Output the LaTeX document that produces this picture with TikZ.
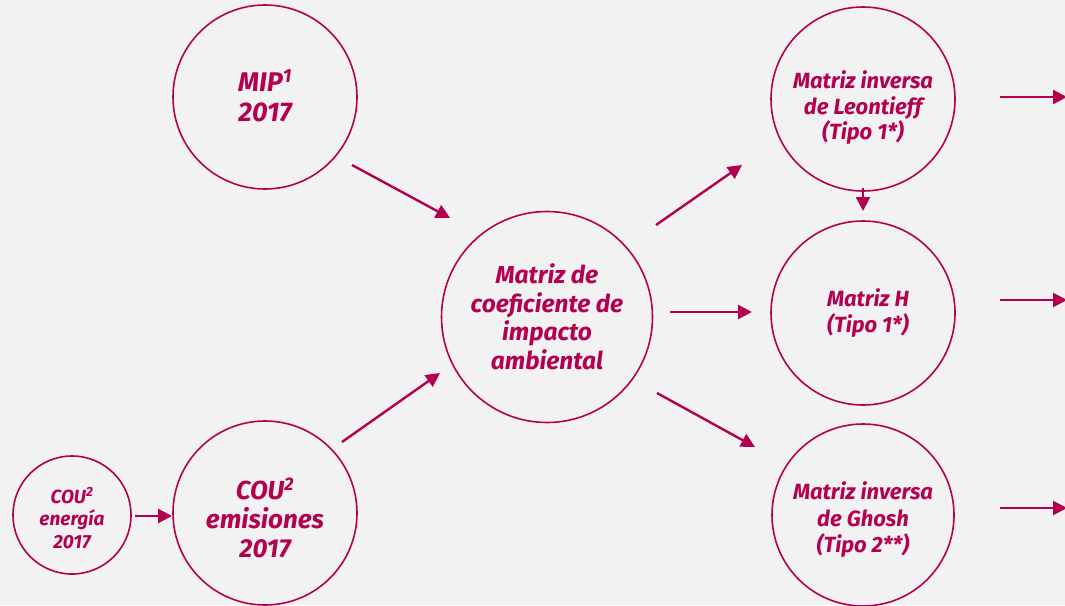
\documentclass[tikz,border=0pt]{standalone}
\usepackage{fontspec}
\setmainfont{Fira Sans}
\usetikzlibrary{arrows.meta}
\definecolor{mag}{RGB}{180,0,78}
\definecolor{bg}{RGB}{242,242,242}
\begin{document}
\begin{tikzpicture}[x=1pt,y=-1pt,
  circ/.style={circle,draw=mag,line width=1.6pt,inner sep=0pt},
  big/.style={circ,minimum size=184pt},
  txt/.style={inner sep=0pt,align=center,text=mag},
  arr/.style={draw=mag,line width=2.4pt,-{Triangle[length=14pt,width=14pt]}}]
\fill[bg] (0,0) rectangle (1065,605);
\useasboundingbox (0,0) rectangle (1065,605);
\node[big] (mip) at (265,97) {};
\node[big] (emi) at (265,513) {};
\node[circ,minimum size=118pt] (ene) at (72,515) {};
\node[circ,minimum size=211pt] (cen) at (547,317) {};
\node[big] (leo) at (863,99) {};
\node[big] (hh) at (863,313) {};
\node[big,minimum size=182pt] (gho) at (863,515) {};
\node[txt,font=\bfseries\itshape\fontsize{27}{30}\selectfont] (mipT) at ([yshift=1]mip.center) {MIP\textsuperscript{1}\\2017};
\node[txt,font=\bfseries\itshape\fontsize{26}{29}\selectfont] (emiT) at ([yshift=-5]emi.center) {COU\textsuperscript{2}\\emisiones\\2017};
\node[txt,font=\bfseries\itshape\fontsize{19}{22.5}\selectfont] (eneT) at ([yshift=-3]ene.center) {COU\textsuperscript{2}\\energía\\2017};
\node[txt,font=\bfseries\itshape\fontsize{24.5}{28.5}\selectfont] (cenT) at (cen.center) {Matriz de\\coeficiente de\\impacto\\ambiental};
\node[txt,font=\bfseries\itshape\fontsize{22}{25.5}\selectfont] (leoT) at ([yshift=-9]leo.center) {Matriz inversa\\de Leontieff\\(Tipo 1*)};
\node[txt,font=\bfseries\itshape\fontsize{22}{26}\selectfont] (hhT) at ([xshift=5,yshift=0]hh.center) {Matriz H\\(Tipo 1*)};
\node[txt,font=\bfseries\itshape\fontsize{22}{26.5}\selectfont] (ghoT) at ([yshift=-5]gho.center) {Matriz inversa\\de Ghosh\\(Tipo 2**)};
\coordinate (o1) at (1067,97);
\coordinate (o2) at (1067,300);
\coordinate (o3) at (1067,508);
\draw[arr] ([shift={(87,68)}]mip.center) -- ([shift={(-97,-99)}]cen.center);
\draw[arr] ([shift={(77,-71)}]emi.center) -- ([shift={(-107,56)}]cen.center);
\draw[arr] ([shift={(63,1)}]ene.center) -- ([shift={(-93,3)}]emi.center);
\draw[arr] ([shift={(109,-92)}]cen.center) -- ([shift={(-121,66)}]leo.center);
\draw[arr] ([shift={(123,-5)}]cen.center) -- ([shift={(-111,-1)}]hh.center);
\draw[arr] ([shift={(110,76)}]cen.center) -- ([shift={(-108,-68)}]gho.center);
\draw[arr] ([shift={(0,89)}]leo.center) -- ([shift={(0,-102)}]hh.center);
\draw[arr] ([shift={(137,-2)}]leo.center) -- (o1);
\draw[arr] ([shift={(137,-13)}]hh.center) -- (o2);
\draw[arr] ([shift={(137,-7)}]gho.center) -- (o3);
\end{tikzpicture}
\end{document}
